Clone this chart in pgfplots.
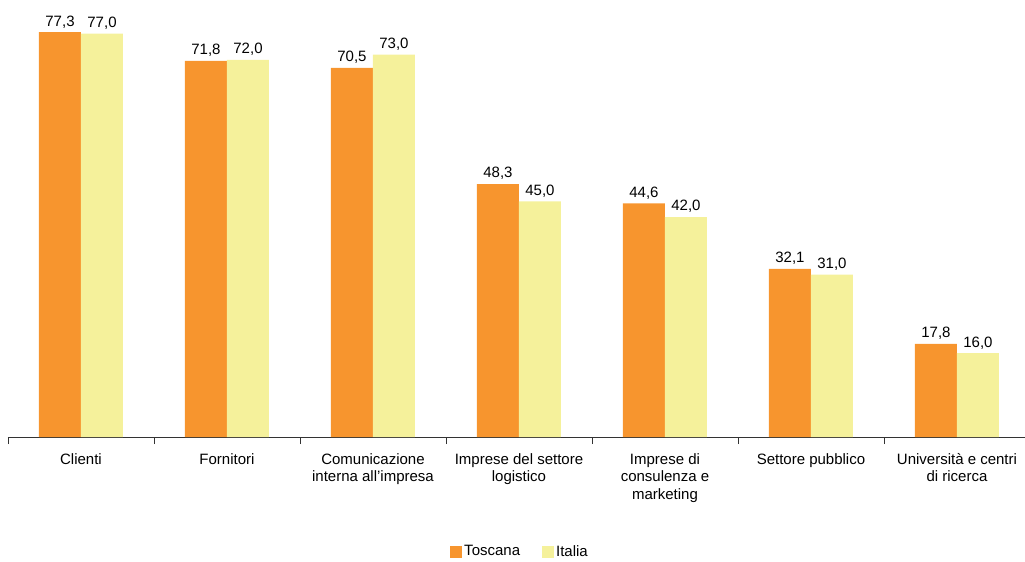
\documentclass[border=0pt]{standalone}
\usepackage{pgfplots}
\pgfplotsset{compat=1.18}
\usepackage{fontspec}
\setmainfont{Liberation Sans}
\definecolor{tosc}{RGB}{247,149,46}
\definecolor{ital}{RGB}{245,241,155}
\begin{document}
\fontsize{15}{18}\selectfont
\begin{tikzpicture}
\path[use as bounding box] (-8pt,-125pt) rectangle (1017pt,437pt);
\begin{axis}[
    at={(0,0)}, anchor=south west,
    scale only axis,
    width=1022pt, height=419pt,
    xmin=-0.5, xmax=6.5,
    ymin=0, ymax=80,
    axis y line=none,
    axis x line*=bottom,
    x axis line style={black!80, line width=0.8pt},
    ybar, bar width=42pt,
    xtick={0,1,2,3,4,5,6},
    xticklabels={Clienti, Fornitori, Comunicazione\\interna all'impresa, Imprese del settore\\logistico, Imprese di\\consulenza e\\marketing, Settore pubblico, Università e centri\\di ricerca},
    xticklabel style={align=center, yshift=-11pt, font=\fontsize{15}{17.5}\selectfont},
    major tick length=0pt,
    extra x ticks={-0.5,0.5,1.5,2.5,3.5,4.5,5.5},
    extra x tick labels={},
    extra x tick style={major tick length=7pt, tick align=outside, tick style={black!80, line width=0.8pt}},
    nodes near coords,
    /pgf/number format/assume math mode=true,
    nodes near coords style={font=\fontsize{15}{18}\selectfont, text=black, yshift=-1pt,
        /pgf/number format/.cd, fixed, fixed zerofill, precision=1, use comma, assume math mode=true},
    legend style={at={(0.501,-0.274)}, anchor=center, draw=none, legend columns=2,
        font=\fontsize{15}{18}\selectfont,
        /tikz/every even column/.append style={column sep=20pt}},
    legend image code/.code={\fill[#1] (0pt,-6pt) rectangle (12pt,6pt);},
]
\addplot[fill=tosc, draw=none, bar shift=-21pt] coordinates {(0,77.3) (1,71.8) (2,70.5) (3,48.3) (4,44.6) (5,32.1) (6,17.8)};
\addlegendentry{Toscana}
\addplot[fill=ital, draw=none, bar shift=21pt] coordinates {(0,77.0) (1,72.0) (2,73.0) (3,45.0) (4,42.0) (5,31.0) (6,16.0)};
\addlegendentry{Italia}
\end{axis}
\end{tikzpicture}
\end{document}
